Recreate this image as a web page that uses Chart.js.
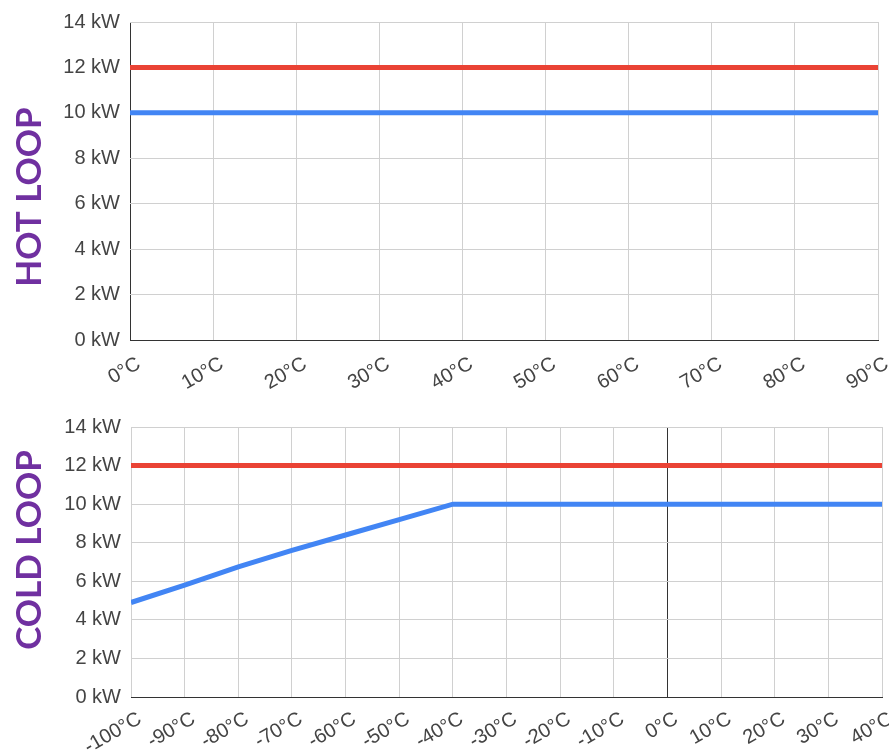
<!DOCTYPE html>
<html>
<head>
<meta charset="utf-8">
<script src="https://cdn.jsdelivr.net/npm/chart.js@4"></script>
<style>
    html, body { margin: 0; padding: 0; background: #fff; }
    .panel { position: absolute; left: 0; width: 889px; }
    #hotWrap { top: 0; height: 400px; }
    #coldWrap { top: 400px; height: 353px; }
</style>
</head>
<body>
<div class="panel" id="hotWrap"><canvas id="hotChart"></canvas></div>
<div class="panel" id="coldWrap"><canvas id="coldChart"></canvas></div>
<script>
// hot loop: supply temperature (°C) vs capacity (kW)
const hotTemps = [0, 90];
const hotMaxKw = [12, 12];
const hotRatedKw = [10, 10];

// cold loop
const coldTemps = [-100, -90, -80, -70, -60, -50, -40, -30, -20, -10, 0, 10, 20, 30, 40];
const coldMaxKw = [12, 12, 12, 12, 12, 12, 12, 12, 12, 12, 12, 12, 12, 12, 12];
const coldRatedKw = [4.9, 5.8, 6.75, 7.6, 8.4, 9.2, 10, 10, 10, 10, 10, 10, 10, 10, 10];

const RED = '#ea4335';
const BLUE = '#4285f4';
const GRID = '#d0d0d0';
const BASE = '#333333';
const tickFont = { family: '"Liberation Sans", Arial, sans-serif', size: 20 };

// vertical purple label at the left, placed a bit off the axis centre like the original
const sideTitlePlugin = {
    id: 'sideTitle',
    afterDraw(chart, args, pluginOptions) {
        const { ctx, chartArea } = chart;
        const centerY = (chartArea.top + chartArea.bottom) / 2 + pluginOptions.shiftY;
        ctx.save();
        ctx.translate(pluginOptions.x, centerY);
        ctx.rotate(-Math.PI / 2);
        ctx.fillStyle = '#7030a0';
        ctx.font = 'bold 35px Lato, "Open Sans", sans-serif';
        ctx.textAlign = 'center';
        ctx.textBaseline = 'middle';
        ctx.fillText(pluginOptions.text, 0, 0);
        ctx.restore();
    }
};

function toPoints(xs, ys) {
    return xs.map((x, i) => ({ x, y: ys[i] }));
}

function renderLoopChart(canvasId, opts) {
    const canvasElement = document.getElementById(canvasId);

    return new Chart(canvasElement, {
        type: 'line',
        plugins: [sideTitlePlugin],
        data: {
            datasets: [
                {
                    label: 'max',
                    data: toPoints(opts.temps, opts.maxKw),
                    borderColor: RED,
                    borderWidth: 5,
                    pointRadius: 0
                },
                {
                    label: 'rated',
                    data: toPoints(opts.temps, opts.ratedKw),
                    borderColor: BLUE,
                    borderWidth: 5,
                    pointRadius: 0
                }
            ]
        },
        options: {
            responsive: true,
            maintainAspectRatio: false,
            animation: false,
            layout: {
                padding: { top: opts.padTop, right: opts.padRight, bottom: 0, left: 0 }
            },
            plugins: {
                legend: { display: false },
                tooltip: { enabled: false },
                sideTitle: { text: opts.title, x: 30, shiftY: opts.titleShift }
            },
            scales: {
                x: {
                    type: 'linear',
                    min: opts.xMin,
                    max: opts.xMax,
                    afterFit: (scale) => {
                        scale.height = opts.xAxisHeight;
                        scale.paddingLeft = 0;
                        scale.paddingRight = 0;
                    },
                    grid: {
                        drawTicks: false,
                        color: (ctx) => (ctx.tick && ctx.tick.value === 0 ? BASE : GRID)
                    },
                    border: { color: BASE, width: 1 },
                    ticks: {
                        stepSize: 10,
                        autoSkip: false,
                        minRotation: 30,
                        maxRotation: 30,
                        padding: opts.xTickPad,
                        labelOffset: 9,
                        color: '#444',
                        font: tickFont,
                        callback: (value) => `${value}°C`
                    }
                },
                y: {
                    min: 0,
                    max: 14,
                    afterFit: (scale) => { scale.width = opts.yAxisWidth; },
                    grid: {
                        drawTicks: false,
                        color: (ctx) => (ctx.tick && ctx.tick.value === 0 ? BASE : GRID)
                    },
                    border: { display: false },
                    ticks: {
                        stepSize: 2,
                        padding: 10,
                        color: '#444',
                        font: tickFont,
                        callback: (value) => `${value} kW`
                    }
                }
            }
        }
    });
}

renderLoopChart('hotChart', {
    title: 'HOT LOOP',
    titleShift: 16,
    temps: hotTemps,
    maxKw: hotMaxKw,
    ratedKw: hotRatedKw,
    xMin: 0,
    xMax: 90,
    padTop: 21,
    padRight: 11,
    xAxisHeight: 60,
    xTickPad: 12,
    yAxisWidth: 130
});

renderLoopChart('coldChart', {
    title: 'COLD LOOP',
    titleShift: -12,
    temps: coldTemps,
    maxKw: coldMaxKw,
    ratedKw: coldRatedKw,
    xMin: -100,
    xMax: 40,
    padTop: 27,
    padRight: 7,
    xAxisHeight: 56,
    xTickPad: 10,
    yAxisWidth: 131
});
</script>
</body>
</html>
